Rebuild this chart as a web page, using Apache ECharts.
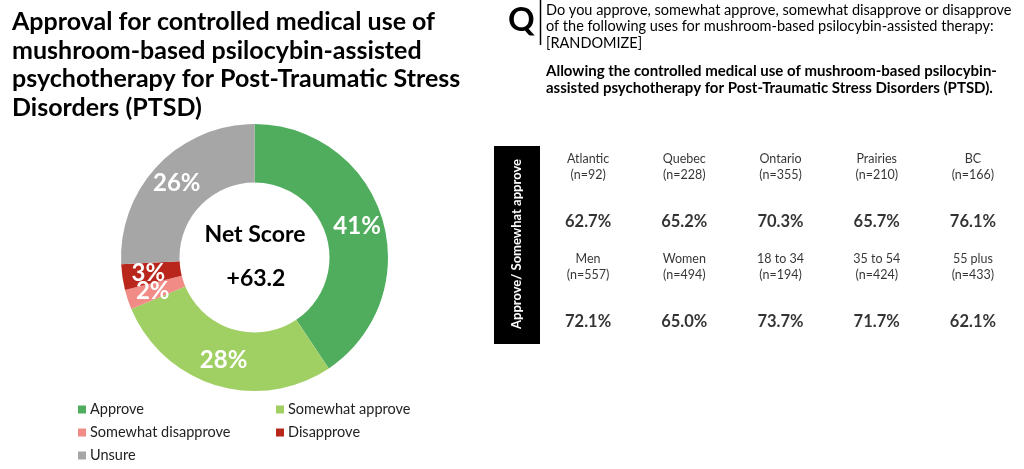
<!DOCTYPE html>
<html><head><meta charset="utf-8">
<script src="https://cdn.jsdelivr.net/npm/echarts@6/dist/echarts.min.js"></script>
<style>html,body{margin:0;padding:0;background:#fff}#c{width:1024px;height:469px}</style>
</head><body><div id="c"></div>
<script>
const categories = ['Approve','Somewhat approve','Somewhat disapprove','Disapprove','Unsure'];
const shares = [40.6, 28.1, 2.4, 3.1, 25.8];
const colors = ['#50ad5d','#a0cf64','#f08b86','#b8261c','#a6a6a6'];
const netScore = '+63.2';
const regions = ['Atlantic','Quebec','Ontario','Prairies','BC'];
const regionN = [92,228,355,210,166];
const regionValues = [62.7,65.2,70.3,65.7,76.1];
const demos = ['Men','Women','18 to 34','35 to 54','55 plus'];
const demoN = [557,494,194,424,433];
const demoValues = [72.1,65.0,73.7,71.7,62.1];

const FONT = 'Lato, "Open Sans", sans-serif';
const chart = echarts.init(document.getElementById('c'));

const labelData = [];
const valueData = [];
regions.forEach((r,i)=>{ labelData.push({value:[i,0], name:r+'\n(n='+regionN[i]+')'}); valueData.push({value:[i,0], name:regionValues[i].toFixed(1)+'%'}); });
demos.forEach((r,i)=>{ labelData.push({value:[i,1], name:r+'\n(n='+demoN[i]+')'}); valueData.push({value:[i,1], name:demoValues[i].toFixed(1)+'%'}); });

const legendPos = [[78,402],[276,402],[78,425],[276,425],[78,448]];
const legends = categories.map((c,i)=>({
  data:[c], left:legendPos[i][0], top:legendPos[i][1], itemWidth:8, itemHeight:8, icon:'rect', padding:0,
  textStyle:{fontFamily:FONT, fontSize:14.5, color:'#222', padding:[0,0,0,-1]}
}));

const option = {
  animation:false,
  textStyle:{fontFamily:FONT},
  title:{
    text:'Approval for controlled medical use of\nmushroom-based psilocybin-assisted\npsychotherapy for Post-Traumatic Stress\nDisorders (PTSD)',
    left:7, top:3,
    textStyle:{fontFamily:FONT, fontSize:25, fontWeight:'bold', color:'#000', lineHeight:28.5}
  },
  legend:legends,
  grid:{left:540, width:481, top:144, height:200},
  xAxis:{type:'category', data:regions.map((_,i)=>i), show:false},
  yAxis:{type:'category', data:[0,1], inverse:true, show:false},
  graphic:[
    {type:'text', x:255, y:235, style:{text:'Net Score', fontFamily:FONT, fontSize:23, fontWeight:'bold', fill:'#000', textAlign:'center', textVerticalAlign:'middle'}},
    {type:'text', x:256, y:279, style:{text:netScore, fontFamily:FONT, fontSize:23, fontWeight:'bold', fill:'#000', textAlign:'center', textVerticalAlign:'middle'}},
    {type:'text', left:508, top:4, style:{text:'Q', fontFamily:FONT, fontSize:33, fontWeight:'bold', fill:'#000'}},
    {type:'line', shape:{x1:540.5, y1:0, x2:540.5, y2:45}, style:{stroke:'#000', lineWidth:1.5}},
    {type:'text', left:546, top:2, style:{text:'Do you approve, somewhat approve, somewhat disapprove or disapprove\nof the following uses for mushroom-based psilocybin-assisted therapy:\n[RANDOMIZE]', fontFamily:FONT, fontSize:14.5, lineHeight:16.5, fill:'#000'}},
    {type:'text', left:546, top:63, style:{text:'Allowing the controlled medical use of mushroom-based psilocybin-\nassisted psychotherapy for Post-Traumatic Stress Disorders (PTSD).', fontFamily:FONT, fontSize:15, fontWeight:'bold', lineHeight:17, fill:'#000'}},
    {type:'rect', shape:{x:494, y:146, width:46, height:198}, style:{fill:'#000'}},
    {type:'text', x:517, y:244, rotation:Math.PI/2, style:{text:'Approve/ Somewhat approve', fontFamily:FONT, fontSize:13, fontWeight:'bold', fill:'#fff', textAlign:'center', textVerticalAlign:'middle'}}
  ],
  series:[
    {type:'pie', center:[254.5,257.5], radius:[75,133.5], startAngle:90, clockwise:true,
     data:categories.map((c,i)=>({name:c, value:shares[i], itemStyle:{color:colors[i]}})),
     label:{show:true, position:'inside', formatter:p=>Math.round(p.value)+'%', color:'#fff', fontFamily:FONT, fontSize:24, fontWeight:'bold'},
     labelLayout:{hideOverlap:false},
     labelLine:{show:false}, emphasis:{disabled:true}
    },
    {type:'scatter', data:labelData, symbolSize:1, itemStyle:{color:'rgba(0,0,0,0)'},
     label:{show:true, position:'inside', offset:[0,-27], formatter:p=>p.name, fontFamily:FONT, fontSize:12.5, lineHeight:16.7, color:'#000', align:'center'}},
    {type:'scatter', data:valueData, symbolSize:1, itemStyle:{color:'rgba(0,0,0,0)'},
     label:{show:true, position:'inside', offset:[0,27.7], formatter:p=>p.name, fontFamily:FONT, fontSize:16.5, fontWeight:'bold', color:'#000', align:'center'}}
  ]
};
chart.setOption(option);
</script></body></html>
